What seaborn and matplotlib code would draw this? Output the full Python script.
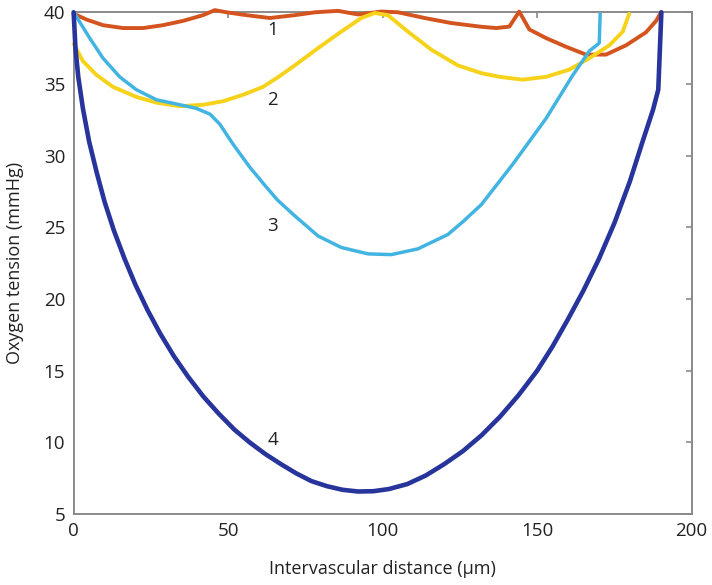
import matplotlib
matplotlib.use("Agg")
import matplotlib.pyplot as plt
import seaborn as sns
import pandas as pd

# ---- data ----
# curve 1 (orange-red)
x1 = [0, 4.1, 9.5, 16, 22.5, 28.9, 35.4, 41.9, 45.7, 49.5, 55.9, 63.5, 71.6, 78.1, 85.6,
      92, 99.6, 105, 113.6, 122.2, 131.5, 136.7, 141, 144.2, 147.5, 152.9, 159.3, 165.8,
      172.3, 178.8, 185.2, 188.5, 190.1]
y1 = [39.9, 39.5, 39.1, 38.9, 38.9, 39.1, 39.4, 39.8, 40.15, 40.0, 39.8, 39.6, 39.8, 40.0, 40.1,
      39.85, 40.05, 40.0, 39.6, 39.25, 39.0, 38.9, 39.0, 40.05, 38.8, 38.2, 37.6, 37.05,
      37.05, 37.7, 38.6, 39.4, 40.0]

# curve 2 (yellow)
x2 = [0, 3.0, 7.3, 12.7, 20.3, 26.8, 34.3, 41.9, 48.4, 54.9, 61.3, 66, 71.6, 79.1, 86.6,
      93.1, 97.4, 101.7, 108.2, 115.7, 124.3, 132, 137.8, 145.3, 152.9, 160.4, 166.9,
      173.4, 177.7, 179.8]
y2 = [37.8, 36.6, 35.65, 34.8, 34.1, 33.7, 33.45, 33.55, 33.8, 34.25, 34.8, 35.45, 36.3, 37.5,
      38.65, 39.6, 39.95, 39.8, 38.65, 37.4, 36.3, 35.75, 35.5, 35.3, 35.5, 36.0, 36.8,
      37.7, 38.65, 39.9]

# curve 3 (light blue)
x3 = [0, 0.9, 5.2, 9.5, 14.9, 20.3, 26.8, 33.3, 39.7, 44.1, 47.3, 51.6, 57, 62.4, 66,
      71.6, 79.1, 86.6, 95.3, 102.8, 111.4, 121.1, 126, 132, 142.1, 152.9, 161.5, 166.9,
      170.1, 170.4]
y3 = [40, 39.7, 38.2, 36.8, 35.5, 34.6, 33.9, 33.6, 33.3, 32.9, 32.2, 30.8, 29.2, 27.8, 26.9,
      25.8, 24.4, 23.6, 23.15, 23.1, 23.5, 24.5, 25.4, 26.6, 29.4, 32.6, 35.6, 37.3,
      37.85, 39.9]

# curve 4 (dark blue)
x4 = [0, 0.6, 1.5, 3, 5, 7.5, 10, 13, 16.5, 20, 24, 28, 32.5, 37, 42, 47, 52, 57, 62, 67,
      72, 77, 82, 87, 92, 97, 102, 108, 114, 120, 126, 132, 138, 144, 150, 155, 160, 165,
      170, 175, 180, 184, 187.5, 189.2, 190.2]
y4 = [40, 37.5, 35.5, 33.3, 31, 28.8, 26.8, 24.8, 22.8, 21, 19.2, 17.6, 16, 14.6, 13.2, 12,
      10.9, 10, 9.2, 8.5, 7.85, 7.3, 6.95, 6.7, 6.58, 6.6, 6.75, 7.1, 7.7, 8.5, 9.4, 10.5,
      11.8, 13.3, 15.0, 16.7, 18.6, 20.6, 22.8, 25.3, 28.2, 30.9, 33.2, 34.6, 40]

curve_names = ["1", "2", "3", "4"]
colors = ["#d4541f", "#f6d31a", "#42b4e2", "#27349b"]
widths = [2.8, 2.8, 2.5, 3.3]
label_x = [64.5, 64.5, 64.5, 64.5]
label_y = [38.75, 33.9, 25.1, 10.15]

sns.set_theme(style="white")
plt.rcParams["font.family"] = ["Open Sans", "DejaVu Sans"]

fig = plt.figure(figsize=(7.12, 5.85), dpi=100)
ax = fig.add_axes([0.1034, 0.1211, 0.9714 - 0.1034, 0.979 - 0.1211])

for xs, ys, c, w in zip([x1, x2, x3, x4], [y1, y2, y3, y4], colors, widths):
    df = pd.DataFrame({"x": xs, "y": ys})
    sns.lineplot(data=df, x="x", y="y", ax=ax, color=c, linewidth=w,
                 sort=False, estimator=None, clip_on=False, zorder=3,
                 solid_joinstyle="round", solid_capstyle="round")

for name, lx, ly in zip(curve_names, label_x, label_y):
    ax.text(lx, ly, name, fontsize=13.5, color="#222222", ha="center", va="center")

ax.set_xlim(0, 200)
ax.set_ylim(5, 40)
ax.set_xticks([0, 50, 100, 150, 200])
ax.set_yticks([5, 10, 15, 20, 25, 30, 35, 40])
ax.set_xlabel("Intervascular distance (\u03bcm)", fontsize=13, color="#222222", labelpad=14)
ax.set_ylabel("Oxygen tension (mmHg)", fontsize=13, color="#222222", labelpad=14)

for s in ax.spines.values():
    s.set_visible(True)
    s.set_color("#8a8a8a")
    s.set_linewidth(1.4)
ax.tick_params(direction="in", length=4, width=1.2, color="#8a8a8a",
               labelsize=13.5, labelcolor="#222222", top=True, right=True,
               labeltop=False, labelright=False, pad=6)

fig.savefig("out.png", dpi=100)
